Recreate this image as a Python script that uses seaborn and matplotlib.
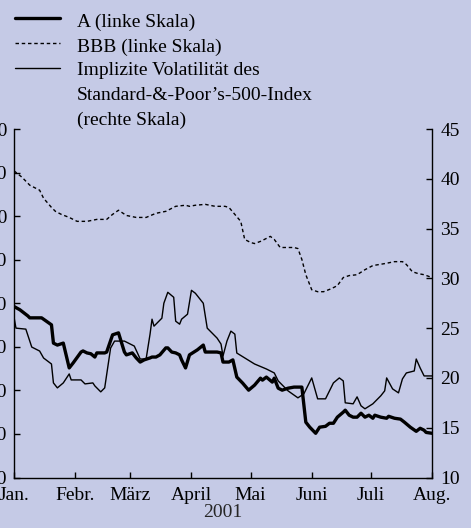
import numpy as np
import pandas as pd
import seaborn as sns
import matplotlib.pyplot as plt
from matplotlib.lines import Line2D

# -------------------------------------------------------
# Data (2001)

# A-rated spread, left scale
a_dates = ['2001-01-01', '2001-01-04', '2001-01-08', '2001-01-09', '2001-01-15', '2001-01-20',
           '2001-01-21', '2001-01-23', '2001-01-26', '2001-01-29', '2001-01-31',
           '2001-02-04', '2001-02-05', '2001-02-07', '2001-02-09', '2001-02-11', '2001-02-12',
           '2001-02-16', '2001-02-17', '2001-02-20', '2001-02-23', '2001-02-26', '2001-02-27',
           '2001-03-02', '2001-03-04', '2001-03-06', '2001-03-08', '2001-03-11', '2001-03-12',
           '2001-03-14', '2001-03-16', '2001-03-19', '2001-03-20', '2001-03-22', '2001-03-24',
           '2001-03-26', '2001-03-27', '2001-03-29', '2001-03-31',
           '2001-04-04', '2001-04-07', '2001-04-08', '2001-04-11', '2001-04-14', '2001-04-16',
           '2001-04-17', '2001-04-20', '2001-04-22', '2001-04-24', '2001-04-27', '2001-04-30',
           '2001-05-03', '2001-05-06', '2001-05-07', '2001-05-09', '2001-05-12', '2001-05-13',
           '2001-05-15', '2001-05-17', '2001-05-20', '2001-05-23', '2001-05-27', '2001-05-29',
           '2001-05-31', '2001-06-03', '2001-06-05', '2001-06-08', '2001-06-10', '2001-06-12',
           '2001-06-14', '2001-06-17', '2001-06-18', '2001-06-20', '2001-06-22', '2001-06-24',
           '2001-06-26', '2001-06-28', '2001-06-30',
           '2001-07-02', '2001-07-03', '2001-07-06', '2001-07-09', '2001-07-10', '2001-07-13',
           '2001-07-16', '2001-07-18', '2001-07-21', '2001-07-24', '2001-07-26', '2001-07-28',
           '2001-07-29', '2001-08-01']
a_values = [158.5, 157.0, 154.2, 153.3, 153.3, 150.1,
            141.7, 140.8, 141.7, 130.3, 132.6,
            137.6, 138.1, 137.2, 136.8, 135.3, 137.2,
            137.2, 137.6, 145.5, 146.4, 137.6, 136.3,
            137.2, 134.9, 133.0, 134.0, 134.9, 135.3,
            135.3, 136.3, 139.5, 139.5, 137.6, 137.2,
            136.3, 134.0, 130.3, 136.3,
            138.6, 140.8, 137.6, 137.6, 137.6, 137.2,
            133.0, 133.0, 134.0, 126.1, 123.3, 120.1,
            122.4, 125.6, 124.7, 126.1, 123.8, 125.6,
            121.0, 120.1, 121.0, 121.5, 121.5, 105.4,
            103.1, 100.3, 103.1, 103.5, 104.9, 104.9,
            107.7, 110.0, 110.9, 108.6, 107.7, 107.7,
            109.5, 107.7, 108.6,
            107.2, 108.6, 107.7, 107.2, 108.1, 107.2,
            106.8, 105.4, 103.1, 101.2, 102.6, 101.7,
            100.7, 100.3]

# BBB-rated spread, left scale
bbb_dates = ['2001-01-01', '2001-01-05', '2001-01-09', '2001-01-14', '2001-01-16', '2001-01-20',
             '2001-01-22', '2001-01-25', '2001-01-29',
             '2001-02-02', '2001-02-07', '2001-02-12', '2001-02-17', '2001-02-20', '2001-02-23',
             '2001-02-27',
             '2001-03-04', '2001-03-09', '2001-03-14', '2001-03-19', '2001-03-24', '2001-03-29',
             '2001-03-31',
             '2001-04-03', '2001-04-08', '2001-04-13', '2001-04-18', '2001-04-20', '2001-04-23',
             '2001-04-26', '2001-04-28',
             '2001-05-01', '2001-05-03', '2001-05-06', '2001-05-08', '2001-05-11', '2001-05-13',
             '2001-05-16', '2001-05-18', '2001-05-23', '2001-05-25', '2001-05-27', '2001-05-29',
             '2001-06-01', '2001-06-04', '2001-06-07', '2001-06-11', '2001-06-14', '2001-06-17',
             '2001-06-20', '2001-06-24', '2001-06-28',
             '2001-07-02', '2001-07-08', '2001-07-13', '2001-07-17', '2001-07-19', '2001-07-22',
             '2001-07-25', '2001-07-28', '2001-08-01']
bbb_values = [220.8, 217.9, 214.2, 211.9, 208.2, 204.0,
              202.2, 200.8, 199.4,
              197.6, 197.6, 198.5, 198.5, 200.8, 202.7,
              200.3,
              199.4, 199.4, 201.3, 202.2, 204.5, 205.0,
              204.5,
              205.0, 205.4, 204.5, 204.5, 204.0, 200.8,
              197.6, 189.3,
              187.9, 187.4, 188.4, 189.3, 190.7, 189.3,
              185.6, 185.6, 185.6, 185.1, 180.1, 173.1,
              166.2, 165.3, 165.3, 166.7, 168.1, 171.8,
              172.7, 173.1, 175.4,
              177.3, 178.2, 179.1, 179.1, 177.8, 174.5,
              173.6, 173.1, 171.8]

# Implied volatility of the S&P 500, right scale
vol_dates = ['2001-01-01', '2001-01-02', '2001-01-07', '2001-01-10', '2001-01-14', '2001-01-16',
             '2001-01-20', '2001-01-21', '2001-01-23', '2001-01-26', '2001-01-29', '2001-01-30',
             '2001-02-04', '2001-02-06', '2001-02-10', '2001-02-11', '2001-02-14', '2001-02-16',
             '2001-02-19', '2001-02-21', '2001-02-26',
             '2001-03-03', '2001-03-06', '2001-03-09', '2001-03-11', '2001-03-12', '2001-03-13',
             '2001-03-17', '2001-03-18', '2001-03-20', '2001-03-23', '2001-03-24', '2001-03-26',
             '2001-03-27', '2001-03-30',
             '2001-04-01', '2001-04-03', '2001-04-07', '2001-04-09', '2001-04-14', '2001-04-16',
             '2001-04-17', '2001-04-19', '2001-04-21', '2001-04-23', '2001-04-24',
             '2001-05-03', '2001-05-09', '2001-05-13', '2001-05-15', '2001-05-20', '2001-05-25',
             '2001-05-28',
             '2001-06-01', '2001-06-04', '2001-06-08', '2001-06-12', '2001-06-15', '2001-06-17',
             '2001-06-18', '2001-06-22', '2001-06-24', '2001-06-26', '2001-06-28',
             '2001-07-02', '2001-07-06', '2001-07-08', '2001-07-09', '2001-07-12', '2001-07-15',
             '2001-07-17', '2001-07-19', '2001-07-23', '2001-07-24', '2001-07-26', '2001-07-28',
             '2001-08-01']
vol_values = [26.1, 25.0, 24.9, 23.1, 22.7, 22.0,
              21.4, 19.5, 19.0, 19.5, 20.4, 19.8,
              19.8, 19.4, 19.5, 19.2, 18.6, 19.0,
              23.0, 23.7, 23.7,
              23.2, 21.9, 21.9, 24.4, 25.9, 25.2,
              26.0, 27.5, 28.6, 28.1, 25.7, 25.4,
              25.9, 26.4,
              28.8, 28.5, 27.5, 25.0, 24.0, 23.4,
              22.2, 23.7, 24.7, 24.4, 22.5,
              21.4, 20.9, 20.5, 19.7, 18.7, 18.0,
              18.4,
              20.0, 17.9, 17.9, 19.5, 20.0, 19.7,
              17.5, 17.4, 18.1, 17.2, 16.9,
              17.4, 18.2, 18.7, 20.0, 18.9, 18.5,
              19.9, 20.5, 20.7, 21.9, 21.0, 20.2,
              20.2]

month_labels = ['Jan.', 'Febr.', 'März', 'April', 'Mai', 'Juni', 'Juli', 'Aug.']
legend_labels = ['A (linke Skala)', 'BBB (linke Skala)',
                 'Implizite Volatilität des\nStandard-&-Poor’s-500-Index\n(rechte Skala)']

# -------------------------------------------------------
a_df = pd.DataFrame({'Datum': pd.to_datetime(a_dates), 'Wert': a_values})
bbb_df = pd.DataFrame({'Datum': pd.to_datetime(bbb_dates), 'Wert': bbb_values})
vol_df = pd.DataFrame({'Datum': pd.to_datetime(vol_dates), 'Wert': vol_values})

bg = '#C5CAE6'
sns.set_style('ticks')
plt.rcParams['font.family'] = ['Liberation Serif', 'DejaVu Serif']
plt.rcParams['font.size'] = 14

W, H = 471, 528
fig = plt.figure(figsize=(W / 100, H / 100), dpi=100, facecolor=bg)
ax = fig.add_axes([14 / W, 1 - 477.5 / H, (432 - 14) / W, (477.5 - 129) / H])
ax.set_facecolor(bg)
ax2 = ax.twinx()

a_style = dict(color='black', lw=2.4)
bbb_style = dict(color='black', lw=1.0, linestyle=(0, (2.5, 2)))
vol_style = dict(color='black', lw=1.0)

sns.lineplot(data=a_df, x='Datum', y='Wert', ax=ax, **a_style)
sns.lineplot(data=bbb_df, x='Datum', y='Wert', ax=ax, **bbb_style)
sns.lineplot(data=vol_df, x='Datum', y='Wert', ax=ax2, **vol_style)

# axes
ax.set_xlim(pd.Timestamp('2001-01-01'), pd.Timestamp('2001-08-01'))
ax.set_xticks(pd.date_range('2001-01-01', '2001-08-01', freq='MS'))
ax.set_xticklabels(month_labels)
ax.set_ylim(80, 240)
ax.set_yticks(range(80, 241, 20))
ax2.set_ylim(10, 45)
ax2.set_yticks(range(10, 46, 5))

ax.set_xlabel('2001', labelpad=0)
ax.set_ylabel('')
ax2.set_ylabel('')

ax.tick_params(axis='x', direction='in', length=4, width=1, pad=7, colors='black')
ax.tick_params(axis='y', direction='in', length=4, width=1, pad=5, colors='black')
ax2.tick_params(axis='y', direction='in', length=4, width=1, pad=6, colors='black')

for s in ['top', 'right']:
    ax.spines[s].set_visible(False)
for s in ['top', 'left', 'bottom']:
    ax2.spines[s].set_visible(False)
for a in [ax, ax2]:
    for s in a.spines.values():
        s.set_linewidth(1.0)
        s.set_color('black')

# -------------------------------------------------------
# legend, drawn by hand at top left
handle_y = [18.3, 43.3, 68.3]
text_baselines = [26.7, 51.7, 75.0, 100.0, 124.5]
styles = [a_style, bbb_style, vol_style]
for yy, st in zip(handle_y, styles):
    fig.add_artist(Line2D([15 / W, 60 / W], [1 - yy / H] * 2, transform=fig.transFigure, **st))

text_lines = '\n'.join(legend_labels).split('\n')
for yy, txt in zip(text_baselines, text_lines):
    fig.text(77 / W, 1 - yy / H, txt, ha='left', va='baseline', fontsize=14, color='black')

fig.savefig('out.png', dpi=100, facecolor=bg)
